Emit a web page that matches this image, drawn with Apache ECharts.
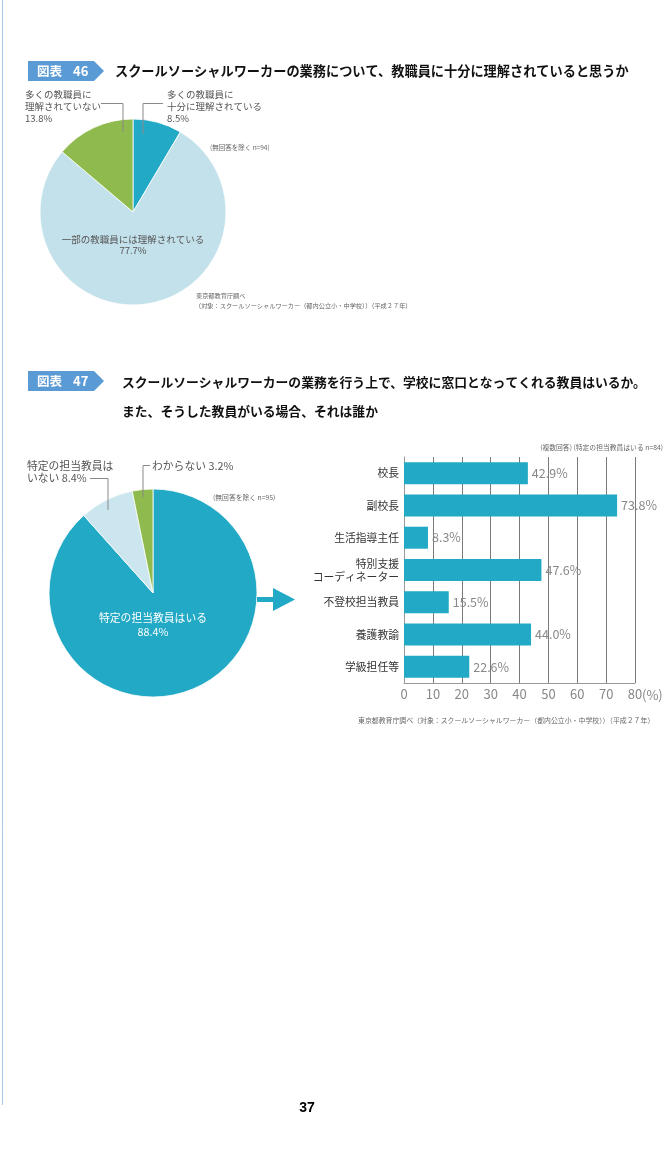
<!DOCTYPE html>
<html>
<head>
<meta charset="utf-8">
<script src="https://cdn.jsdelivr.net/npm/echarts@6/dist/echarts.min.js"></script>
<style>
html,body{margin:0;padding:0;background:#fff;}
#c{width:669px;height:1173px;}
</style>
</head>
<body>
<div id="c"></div>
<script>
// ---- data ----
const pie1Names = ['多くの教職員に\n十分に理解されている', '一部の教職員には理解されている', '多くの教職員に\n理解されていない'];
const pie1Values = [8.5, 77.7, 13.8];
const pie1Colors = ['#22a9c6', '#c3e1eb', '#8fbb4e'];

const pie2Names = ['特定の担当教員はいる', '特定の担当教員は\nいない', 'わからない'];
const pie2Values = [88.4, 8.4, 3.2];
const pie2Colors = ['#22a9c6', '#cbe6ee', '#8fbb4e'];

const barCategories = ['校長', '副校長', '生活指導主任', '特別支援\nコーディネーター', '不登校担当教員', '養護教諭', '学級担任等'];
const barValues = [42.9, 73.8, 8.3, 47.6, 15.5, 44.0, 22.6];
const xTickMin = 0, xTickMax = 80, xTickStep = 10;

const title46 = 'スクールソーシャルワーカーの業務について、教職員に十分に理解されていると思うか';
const title47a = 'スクールソーシャルワーカーの業務を行う上で、学校に窓口となってくれる教員はいるか。';
const title47b = 'また、そうした教員がいる場合、それは誰か';
const note46 = '(無回答を除く n=94)';
const note47 = '(無回答を除く n=95)';
const noteBar = '(複数回答) (特定の担当教員はいる n=84)';
const src1 = '東京都教育庁調べ';
const src2 = '（対象：スクールソーシャルワーカー（都内公立小・中学校））（平成２７年）';
const srcBar = '東京都教育庁調べ（対象：スクールソーシャルワーカー（都内公立小・中学校））（平成２７年）';

// ---- chart ----
const JP = '"Noto Sans CJK JP", "Noto Sans", sans-serif';
const pct = v => v.toFixed(1) + '%';
const chart = echarts.init(document.getElementById('c'), null, {renderer: 'canvas'});

function txt(x, y, text, font, fill, align, vAlign, lh) {
  return {type: 'text', x: x, y: y, z: 100, silent: true,
    style: {text: text, font: font, fill: fill, align: align || 'left', verticalAlign: vAlign || 'middle', lineHeight: lh}};
}
function line(points, color) {
  return {type: 'polyline', z: 100, silent: true, shape: {points: points}, style: {stroke: color || '#8a8a8a', lineWidth: 1, fill: null}};
}
function badge(y, num) {
  return [
    {type: 'polygon', z: 100, silent: true, shape: {points: [[28, y], [94, y], [104, y + 10], [94, y + 20], [28, y + 20]]}, style: {fill: '#5b9bd5'}},
    txt(37, y + 10.5, '図表', 'bold 12.5px ' + JP, '#fff'),
    txt(73, y + 10.5, num, 'bold 13px ' + JP, '#fff')
  ];
}

const graphics = [
  line([[2.5, 0], [2.5, 1105]], '#a9c7e6'),
  ...badge(61, '46'),
  txt(115, 71, title46, 'bold 13.2px ' + JP, '#111'),
  // pie 1 labels
  txt(25, 88, pie1Names[2] + '\n' + pct(pie1Values[2]), '9.5px ' + JP, '#555', 'left', 'top', 12),
  txt(167, 88, pie1Names[0] + '\n' + pct(pie1Values[0]), '9.5px ' + JP, '#555', 'left', 'top', 12),
  txt(133, 233.5, pie1Names[1] + '\n' + pct(pie1Values[1]), '9.5px ' + JP, '#555', 'center', 'top', 11.5),
  line([[101, 103.5], [123, 103.5], [123, 132]]),
  line([[163, 103.5], [143, 103.5], [143, 134]]),
  txt(210, 148, note46, '6.5px ' + JP, '#666'),
  txt(196, 296, src1, '6.2px ' + JP, '#666'),
  txt(195, 306, src2, '6.2px ' + JP, '#666'),
  // section 47
  ...badge(371, '47'),
  txt(122, 382, title47a, 'bold 12.8px ' + JP, '#111'),
  txt(122, 411, title47b, 'bold 12.8px ' + JP, '#111'),
  txt(27, 460, pie2Names[1] + ' ' + pct(pie2Values[1]), '10.8px ' + JP, '#555', 'left', 'top', 12),
  txt(152, 466, pie2Names[2] + ' ' + pct(pie2Values[2]), '10.8px ' + JP, '#555'),
  txt(153, 611, pie2Names[0] + '\n' + pct(pie2Values[0]), '10.8px ' + JP, '#fff', 'center', 'top', 14),
  line([[90, 478.5], [108, 478.5], [108, 510]]),
  line([[150, 465.5], [143, 465.5], [143, 497]]),
  txt(213, 497, note47, '6.8px ' + JP, '#666'),
  // arrow
  {type: 'rect', z: 100, silent: true, shape: {x: 257, y: 597, width: 18, height: 5}, style: {fill: '#22a9c6'}},
  {type: 'polygon', z: 100, silent: true, shape: {points: [[273, 588], [295, 599.5], [273, 611]]}, style: {fill: '#22a9c6'}},
  // bar notes
  txt(663, 447, noteBar, '6.8px ' + JP, '#666', 'right'),
  txt(642, 695, '(%)', '13px ' + JP, '#888'),
  txt(358, 720, srcBar, '6.9px ' + JP, '#666'),
  // page number
  txt(307, 1108, '37', 'bold 14px "Liberation Sans", Arial, sans-serif', '#000', 'center')
];

const option = {
  animation: false,
  backgroundColor: '#fff',
  grid: {left: 404, right: 34, top: 457, bottom: 490, containLabel: false},
  xAxis: {
    type: 'value', min: xTickMin, max: xTickMax, interval: xTickStep,
    axisLine: {show: true, lineStyle: {color: '#999', width: 1}},
    axisTick: {show: false},
    axisLabel: {color: '#888', fontSize: 13, fontFamily: JP, margin: 5},
    splitLine: {show: true, lineStyle: {color: '#7a7a7a', width: 1}}
  },
  yAxis: {
    type: 'category', inverse: true, data: barCategories,
    axisLine: {show: true, lineStyle: {color: '#999', width: 1}},
    axisTick: {show: false},
    axisLabel: {color: '#333', fontSize: 10.8, fontFamily: JP, margin: 5, lineHeight: 13}
  },
  series: [
    {
      type: 'pie', center: [133, 212], radius: 93, startAngle: 90, clockwise: true,
      silent: true, label: {show: false}, labelLine: {show: false},
      itemStyle: {borderColor: '#fff', borderWidth: 0.8},
      data: pie1Values.map((v, i) => ({value: v, name: pie1Names[i], itemStyle: {color: pie1Colors[i]}}))
    },
    {
      type: 'pie', center: [153, 593], radius: 104, startAngle: 90, clockwise: true,
      silent: true, label: {show: false}, labelLine: {show: false},
      itemStyle: {borderColor: '#fff', borderWidth: 0.8},
      data: pie2Values.map((v, i) => ({value: v, name: pie2Names[i], itemStyle: {color: pie2Colors[i]}}))
    },
    {
      type: 'bar', data: barValues, barWidth: 22, silent: true,
      itemStyle: {color: '#22a9c6'},
      label: {show: true, position: 'right', distance: 4, color: '#888', fontSize: 12.5, fontFamily: JP,
        formatter: p => pct(p.value)}
    }
  ],
  graphic: graphics
};
chart.setOption(option);
</script>
</body>
</html>
